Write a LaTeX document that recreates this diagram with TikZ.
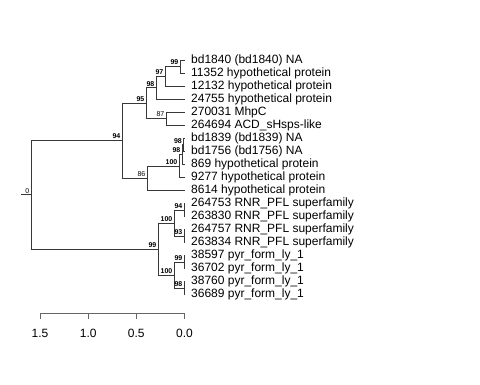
\documentclass[tikz,border=0pt]{standalone}
\usepackage{fontspec}
\setmainfont{Liberation Sans}
\begin{document}
\begin{tikzpicture}[x=1pt,y=1pt,
  br/.style={draw=black!78,line width=0.8pt},
  leaflab/.style={anchor=west,inner sep=0pt,font=\fontsize{12}{12}\selectfont},
  nlab/.style={anchor=south east,inner sep=0pt,font=\fontsize{7}{7}\selectfont\bfseries,xshift=-1.5pt,yshift=1.5pt},
  nlabp/.style={anchor=south east,inner sep=0pt,font=\fontsize{7}{7}\selectfont,xshift=-1.5pt,yshift=1.5pt},
  axlab/.style={inner sep=0pt,font=\fontsize{12}{12}\selectfont}]
\useasboundingbox (0,0) rectangle (480,-384);
\begin{scope}[y=-13.03pt,yshift=-60.1pt]
  % tips
  \foreach \i in {0,...,18} {\coordinate (t\i) at (185,\i);}
  % internal nodes
  \coordinate (root) at (31,10.34375);
  \coordinate (stub) at (21,10.34375);
  \coordinate (n94) at (122,6.1875);
  \coordinate (n95) at (146,3.3125);
  \coordinate (n98a) at (156,2.125);
  \coordinate (n97) at (165,1.25);
  \coordinate (n99a) at (180,0.5);
  \coordinate (n87) at (166,4.5);
  \coordinate (n86) at (147,9.0625);
  \coordinate (n100a) at (179,8.125);
  \coordinate (n98b) at (182,7.25);
  \coordinate (n98c) at (183.5,6.5);
  \coordinate (n99b) at (158,14.5);
  \coordinate (n100b) at (174,12.5);
  \coordinate (n94b) at (184,11.5);
  \coordinate (n93) at (184,13.5);
  \coordinate (n100c) at (174,16.5);
  \coordinate (n99c) at (184,15.5);
  \coordinate (n98d) at (184,17.5);
  % edges
  \draw[br] (stub) -- (root);
  \draw[br] (root) |- (n94);
  \draw[br] (root) |- (n99b);
  \draw[br] (n94) |- (n95);
  \draw[br] (n94) |- (n86);
  \draw[br] (n95) |- (n98a);
  \draw[br] (n95) |- (n87);
  \draw[br] (n98a) |- (n97);
  \draw[br] (n98a) |- (t3);
  \draw[br] (n97) |- (n99a);
  \draw[br] (n97) |- (t2);
  \draw[br] (n99a) |- (t0);
  \draw[br] (n99a) |- (t1);
  \draw[br] (n87) |- (t4);
  \draw[br] (n87) |- (t5);
  \draw[br] (n86) |- (n100a);
  \draw[br] (n86) |- (t10);
  \draw[br] (n100a) |- (n98b);
  \draw[br] (n100a) |- (t9);
  \draw[br] (n98b) |- (n98c);
  \draw[br] (n98b) |- (t8);
  \draw[br] (n98c) |- (t6);
  \draw[br] (n98c) |- (t7);
  \draw[br] (n99b) |- (n100b);
  \draw[br] (n99b) |- (n100c);
  \draw[br] (n100b) |- (n94b);
  \draw[br] (n100b) |- (n93);
  \draw[br] (n94b) |- (t11);
  \draw[br] (n94b) |- (t12);
  \draw[br] (n93) |- (t13);
  \draw[br] (n93) |- (t14);
  \draw[br] (n100c) |- (n99c);
  \draw[br] (n100c) |- (n98d);
  \draw[br] (n99c) |- (t15);
  \draw[br] (n99c) |- (t16);
  \draw[br] (n98d) |- (t17);
  \draw[br] (n98d) |- (t18);
  % node labels
  \node[nlabp] (l0) at (root) {0};
  \node[nlab] (l94) at (n94) {94};
  \node[nlab] (l95) at (n95) {95};
  \node[nlab] (l98a) at (n98a) {98};
  \node[nlab] (l97) at (n97) {97};
  \node[nlab] (l99a) at (n99a) {99};
  \node[nlabp] (l87) at (n87) {87};
  \node[nlabp] (l86) at (n86) {86};
  \node[nlab] (l100a) at (n100a) {100};
  \node[nlab] (l98b) at (n98b) {98};
  \node[nlab] (l98c) at (n98c) {98};
  \node[nlab] (l99b) at (n99b) {99};
  \node[nlab] (l100b) at (n100b) {100};
  \node[nlab] (l94b) at (n94b) {94};
  \node[nlab] (l93) at (n93) {93};
  \node[nlab] (l100c) at (n100c) {100};
  \node[nlab] (l99c) at (n99c) {99};
  \node[nlab] (l98d) at (n98d) {98};
  % tip labels
  \node[leaflab] (a0) at ([xshift=6pt]t0) {bd1840 (bd1840) NA};
  \node[leaflab] (a1) at ([xshift=6pt]t1) {11352 hypothetical protein};
  \node[leaflab] (a2) at ([xshift=6pt]t2) {12132 hypothetical protein};
  \node[leaflab] (a3) at ([xshift=6pt]t3) {24755 hypothetical protein};
  \node[leaflab] (a4) at ([xshift=6pt]t4) {270031 MhpC};
  \node[leaflab] (a5) at ([xshift=6pt]t5) {264694 ACD\_sHsps-like};
  \node[leaflab] (a6) at ([xshift=6pt]t6) {bd1839 (bd1839) NA};
  \node[leaflab] (a7) at ([xshift=6pt]t7) {bd1756 (bd1756) NA};
  \node[leaflab] (a8) at ([xshift=6pt]t8) {869 hypothetical protein};
  \node[leaflab] (a9) at ([xshift=6pt]t9) {9277 hypothetical protein};
  \node[leaflab] (a10) at ([xshift=6pt]t10) {8614 hypothetical protein};
  \node[leaflab] (a11) at ([xshift=6pt]t11) {264753 RNR\_PFL superfamily};
  \node[leaflab] (a12) at ([xshift=6pt]t12) {263830 RNR\_PFL superfamily};
  \node[leaflab] (a13) at ([xshift=6pt]t13) {264757 RNR\_PFL superfamily};
  \node[leaflab] (a14) at ([xshift=6pt]t14) {263834 RNR\_PFL superfamily};
  \node[leaflab] (a15) at ([xshift=6pt]t15) {38597 pyr\_form\_ly\_1};
  \node[leaflab] (a16) at ([xshift=6pt]t16) {36702 pyr\_form\_ly\_1};
  \node[leaflab] (a17) at ([xshift=6pt]t17) {38760 pyr\_form\_ly\_1};
  \node[leaflab] (a18) at ([xshift=6pt]t18) {36689 pyr\_form\_ly\_1};
\end{scope}
% scale axis
\coordinate (s15) at (40,-313);
\coordinate (s10) at (88.17,-313);
\coordinate (s05) at (136.33,-313);
\coordinate (s00) at (184.5,-313);
\draw[draw=black!60,line width=0.8pt] (s15) -- (s00);
\foreach \c in {s15,s10,s05,s00} {\draw[draw=black!60,line width=0.8pt] (\c) -- ++(0,-6);}
\node[axlab] (x15) at ([yshift=-20pt]s15) {1.5};
\node[axlab] (x10) at ([yshift=-20pt]s10) {1.0};
\node[axlab] (x05) at ([yshift=-20pt]s05) {0.5};
\node[axlab] (x00) at ([yshift=-20pt]s00) {0.0};
\end{tikzpicture}
\end{document}
